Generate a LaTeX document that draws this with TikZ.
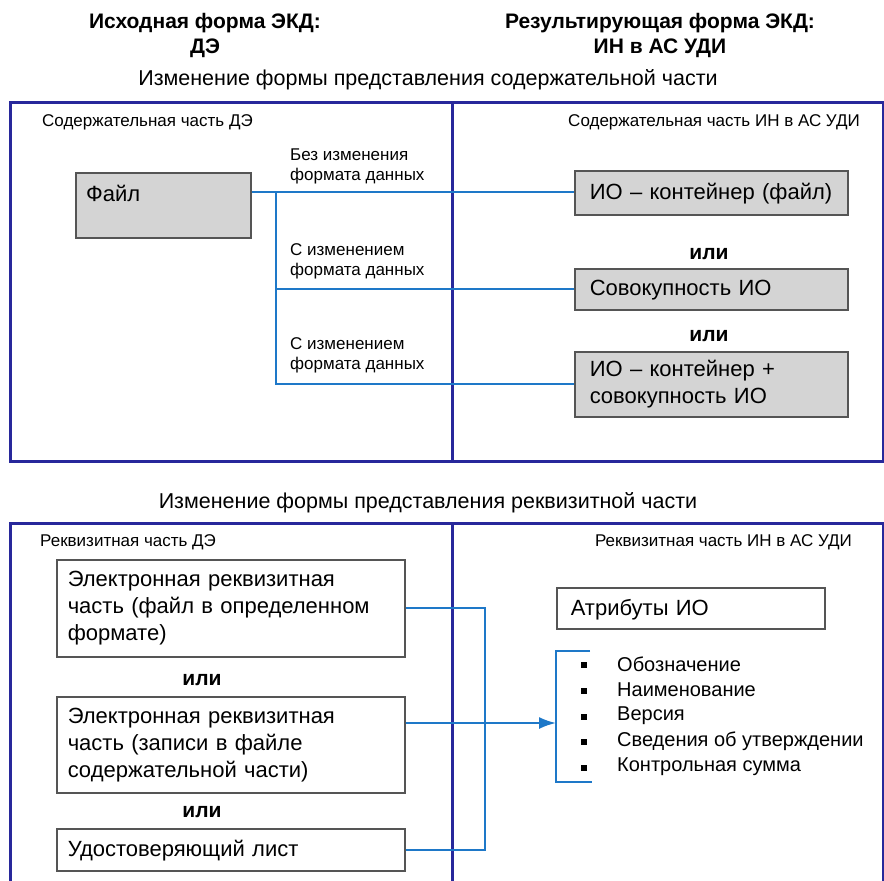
\documentclass[tikz,border=0pt]{standalone}
\usepackage{fontspec}
\setmainfont{Liberation Sans}
\usepackage{tikz}
\usetikzlibrary{shapes,arrows,arrows.meta}
\usetikzlibrary{positioning}
\usetikzlibrary{calc}
\definecolor{framecol}{RGB}{40,40,155}
\definecolor{linecol}{RGB}{30,120,200}
\definecolor{boxgray}{RGB}{212,212,212}
\definecolor{boxedge}{RGB}{85,85,85}
\newcommand{\boxfont}{\fontsize{22}{27}\selectfont}
\newcommand{\capfont}{\fontsize{17}{20}\selectfont}
\newcommand{\orfont}{\fontsize{21}{25}\selectfont\bfseries}
\newcommand{\headfont}{\fontsize{21.5}{26}\selectfont}
\newcommand{\titlefont}{\fontsize{21}{25}\selectfont\bfseries}
\newcommand{\itemfont}{\fontsize{20}{24}\selectfont}
\tikzstyle{greybox} = [draw=boxedge, fill=boxgray, line width=1.5pt,
anchor=north west, align=left, inner xsep=15pt, font=\boxfont]
\tikzstyle{whitebox} = [draw=boxedge, fill=white, line width=1.5pt,
anchor=north west, align=left, inner xsep=11pt, font=\boxfont]
\tikzstyle{line} = [draw, color=linecol, line width=2pt]
\tikzstyle{frame} = [draw=framecol, line width=3pt]
\tikzstyle{caption} = [font=\capfont, inner sep=0pt]
\tikzstyle{flowtext} = [font=\capfont, align=left, anchor=west, inner sep=0pt]
\tikzstyle{orword} = [font=\orfont, inner sep=0pt]

\begin{document}
\begin{tikzpicture}[x=1pt, y=-1pt,
	bulletsq/.style={fill=black, minimum size=6pt, inner sep=0pt},
	itemtext/.style={font=\itemfont, anchor=west, inner sep=0pt}]
	\useasboundingbox (0,0) rectangle (884,881);
	%% Titles
	\node [font=\titlefont, align=center] (src) at (205,35) {Исходная форма ЭКД:\\ДЭ};
	\node [font=\titlefont, align=center] (dst) at (660,35) {Результирующая форма ЭКД:\\ИН в АС УДИ};
	\node [font=\headfont] (headtop) at (428,80) {Изменение формы представления содержательной части};
	\node [font=\headfont] (headbot) at (428,503) {Изменение формы представления реквизитной части};
	%% Frames
	\draw [frame] (10,102) rectangle (883,461);
	\draw [frame] (452,102) -- (452,461);
	\draw [frame] (10,895) -- (10,523) -- (883,523) -- (883,895);
	\draw [frame] (452,523) -- (452,895);
	%% Content part
	\node [caption, anchor=west] (srcpart) at (42,122) {Содержательная часть ДЭ};
	\node [caption, anchor=east] (dstpart) at (860,122) {Содержательная часть ИН в АС УДИ};
	\node [greybox, minimum width=175pt, minimum height=65pt] (file) at (75,172) {};
	\node [font=\boxfont, anchor=west, inner sep=0pt] (filetxt) at (86,193) {Файл};
	\node [greybox, text width=243pt, minimum height=44pt, text depth=2pt] (ioc) at (574,170) {ИО – контейнер (файл)};
	\node [orword] (or1) at (709,254) {или};
	\node [greybox, text width=243pt, minimum height=41pt, text depth=2pt] (iosum) at (574,268) {Совокупность ИО};
	\node [orword] (or2) at (709,336) {или};
	\node [greybox, text width=243pt, minimum height=65pt] (iomix) at (574,351) {ИО – контейнер +\\совокупность ИО};
	\coordinate (fork) at (276,192);
	\path [line] (file.east |- fork) -- (fork) -- (fork -| ioc.west);
	\path [line] (fork) |- (iosum.west);
	\path [line] (fork) |- (iomix.west);
	\node [flowtext] (lbl1) at (290,166) {Без изменения\\формата данных};
	\node [flowtext] (lbl2) at (290,261) {С изменением\\формата данных};
	\node [flowtext] (lbl3) at (290,355) {С изменением\\формата данных};
	%% Requisite part
	\node [caption, anchor=west] (srcreq) at (40,542) {Реквизитная часть ДЭ};
	\node [caption, anchor=east] (dstreq) at (852,542) {Реквизитная часть ИН в АС УДИ};
	\node [whitebox, text width=326pt, minimum height=97pt] (reqfile) at (56,559)
		{Электронная реквизитная\\часть (файл в определенном\\формате)};
	\node [orword] (or3) at (202,680) {или};
	\node [whitebox, text width=326pt, minimum height=96pt] (reqrec) at (56,696)
		{Электронная реквизитная\\часть (записи в файле\\содержательной части)};
	\node [orword] (or4) at (202,812) {или};
	\node [whitebox, text width=326pt, minimum height=42pt, text depth=2pt] (reqsheet) at (56,828) {Удостоверяющий лист};
	\node [whitebox, text width=240pt, inner xsep=14pt, minimum height=41pt, text depth=2pt] (attr) at (556,587) {Атрибуты ИО};
	\coordinate (brtop) at (590,651);
	\coordinate (brbot) at (592,782);
	\coordinate (brin) at (556,723);
	\path [line] (brtop) -- (brtop -| brin) -- (brbot -| brin) -- (brbot);
	\path [line] (reqfile.east) -- ++(79,0) |- (reqsheet.east);
	\path [line, -{Latex[length=17pt,width=12pt]}] (reqrec.east |- brin) -- (brin);
	\foreach \t [count=\i] in {Обозначение, Наименование, Версия, Сведения об утверждении, Контрольная сумма} {
		\node [bulletsq] (dot\i) at (584,{665+(\i-1)*25.75}) {};
		\node [itemtext] (item\i) at (617,{664+(\i-1)*25.75}) {\t};
	}
\end{tikzpicture}
\end{document}
